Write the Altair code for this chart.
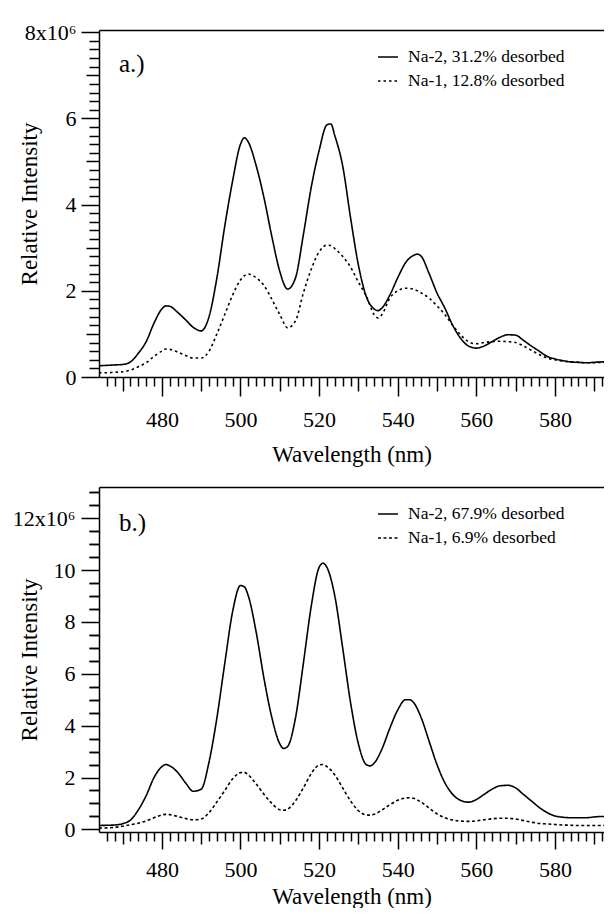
import altair as alt
import pandas as pd

FONT = "Liberation Serif"

# ---------------- data ----------------
wl_a = [464, 466, 468, 470, 472, 474, 476, 478, 480, 481,
        482, 484, 486, 488, 490, 492, 494, 496, 498, 500,
        501, 502, 504, 506, 508, 510, 512, 514, 516, 518,
        520, 522, 523, 524, 526, 528, 530, 532, 534, 535,
        536, 538, 540, 542, 544, 545, 546, 548, 550, 552,
        554, 556, 558, 560, 562, 564, 566, 568, 570, 572,
        574, 576, 578, 580, 582, 584, 586, 588, 590, 592,
        594]
na2_a = [0.26, 0.27, 0.28, 0.29, 0.35, 0.55, 0.82, 1.25, 1.58, 1.65,
         1.64, 1.5, 1.33, 1.15, 1.07, 1.4, 2.3, 3.5, 4.55, 5.4,
         5.55, 5.45, 4.9, 4.15, 3.25, 2.45, 2.04, 2.3, 3.3, 4.4,
         5.25, 5.85, 5.87, 5.6, 4.9, 3.7, 2.6, 1.87, 1.58, 1.54,
         1.6, 1.9, 2.3, 2.65, 2.82, 2.85, 2.8, 2.4, 1.95, 1.6,
         1.2, 0.9, 0.72, 0.67, 0.72, 0.82, 0.92, 0.98, 0.97, 0.85,
         0.72, 0.6, 0.48, 0.42, 0.38, 0.35, 0.34, 0.33, 0.34, 0.35,
         0.35]
na1_a = [0.1, 0.1, 0.11, 0.12, 0.16, 0.24, 0.33, 0.48, 0.6, 0.65,
         0.64, 0.58, 0.5, 0.44, 0.44, 0.6, 1.0, 1.45, 1.9, 2.25,
         2.35, 2.39, 2.3, 2.12, 1.8, 1.45, 1.14, 1.3, 1.95, 2.5,
         2.9, 3.06, 3.05, 2.98, 2.8, 2.55, 2.2, 1.88, 1.45, 1.37,
         1.45, 1.83, 2.0, 2.06, 2.04, 2.0, 1.95, 1.83, 1.65, 1.45,
         1.2, 0.98, 0.82, 0.77, 0.8, 0.82, 0.83, 0.82, 0.8, 0.72,
         0.62, 0.52, 0.44, 0.4, 0.37, 0.35, 0.34, 0.33, 0.33, 0.34,
         0.34]

wl_b = [464, 466, 468, 470, 472, 474, 476, 478, 480, 481,
        482, 484, 486, 488, 490, 492, 494, 496, 498, 500,
        501, 502, 504, 506, 508, 510, 511, 512, 514, 516,
        518, 520, 521, 522, 524, 526, 528, 530, 532, 533,
        534, 536, 538, 540, 542, 543, 544, 546, 548, 550,
        552, 554, 556, 558, 560, 562, 564, 566, 568, 570,
        572, 574, 576, 578, 580, 582, 584, 586, 588, 590,
        592, 594]
na2_b = [0.15, 0.16, 0.17, 0.22, 0.36, 0.75, 1.3, 2.0, 2.42, 2.5,
         2.45, 2.2, 1.8, 1.47, 1.55, 2.6, 4.3, 6.4, 8.4, 9.4,
         9.35, 9.0, 7.6, 5.8, 4.3, 3.3, 3.12, 3.2, 4.3, 6.4,
         8.6, 10.1, 10.26, 10.1, 9.0, 7.0, 4.9, 3.3, 2.5, 2.45,
         2.55, 3.1, 3.9, 4.6, 5.0, 5.0, 4.9, 4.3, 3.4, 2.5,
         1.8, 1.35, 1.12, 1.05, 1.15, 1.35, 1.55, 1.68, 1.7, 1.6,
         1.35, 1.1, 0.85, 0.65, 0.52, 0.47, 0.45, 0.45, 0.45, 0.48,
         0.5, 0.5]
na1_b = [0.05, 0.06, 0.08, 0.12, 0.18, 0.24, 0.33, 0.45, 0.56, 0.58,
         0.57, 0.5, 0.42, 0.37, 0.4, 0.65, 1.06, 1.5, 1.95, 2.19,
         2.2, 2.1, 1.75, 1.35, 1.0, 0.76, 0.74, 0.78, 1.1, 1.6,
         2.15, 2.48, 2.5, 2.42, 2.1, 1.6, 1.1, 0.72, 0.56, 0.55,
         0.58, 0.75, 0.95, 1.12, 1.21, 1.22, 1.2, 1.05, 0.82, 0.6,
         0.45, 0.36, 0.32, 0.31, 0.33, 0.37, 0.41, 0.43, 0.43, 0.4,
         0.34, 0.28, 0.23, 0.21, 0.19, 0.17, 0.16, 0.15, 0.15, 0.15,
         0.15, 0.15]

names_a = ["Na-2, 31.2% desorbed", "Na-1, 12.8% desorbed"]
names_b = ["Na-2, 67.9% desorbed", "Na-1, 6.9% desorbed"]

# tick values
XMAJOR = [480, 500, 520, 540, 560, 580]
XMED = [470, 490, 510, 530, 550, 570, 590]
XMINOR = [w for w in range(466, 593, 2) if w % 10 != 0]

YMAJ_A = [0, 2000000, 4000000, 6000000, 8000000]
YMED_A = [1000000, 3000000, 5000000, 7000000]
YMIN_A = [i * 200000 for i in range(1, 41) if i % 5 != 0]

YMAJ_B = [0, 2000000, 4000000, 6000000, 8000000, 10000000, 12000000]
YMIN_B = [i * 500000 for i in range(1, 27) if i % 4 != 0]


def make_df(wl, s1, s2, names):
    rows = []
    for w, v in zip(wl, s1):
        rows.append({"wl": w, "val": v * 1e6, "series": names[0]})
    for w, v in zip(wl, s2):
        rows.append({"wl": w, "val": v * 1e6, "series": names[1]})
    return pd.DataFrame(rows)


def panel(df, names, ydom, ymaj, ymed, ymin, toplabel, tag, height,
          xtick, xlabpad, xtitlepad, ylabpad, legx, legy, dash, tagy):
    xs = alt.Scale(domain=[464, 592.5], nice=False, zero=False)
    ys = alt.Scale(domain=ydom, nice=False, zero=False)
    lab_expr = ("datum.value == %d ? '%s' : format(datum.value / 1000000, 'd')"
                % (toplabel[0], toplabel[1]))

    main = alt.Chart(df).mark_line(
        color="black", strokeWidth=1.6, interpolate="monotone", clip=True
    ).encode(
        x=alt.X("wl:Q", scale=xs, axis=alt.Axis(
            orient="bottom", values=XMAJOR, tickSize=xtick, labelPadding=xlabpad,
            title="Wavelength (nm)", titlePadding=xtitlepad, format="d",
            labelFlush=False, labelOverlap=False)),
        y=alt.Y("val:Q", scale=ys, axis=alt.Axis(
            orient="left", values=ymaj, tickSize=18, labelPadding=ylabpad,
            labelExpr=lab_expr, title="Relative Intensity",
            titleX=-63, titleBaseline="alphabetic", labelFlush=False,
            labelOverlap=False)),
        strokeDash=alt.StrokeDash(
            "series:N",
            scale=alt.Scale(domain=names, range=[[1, 0], dash]),
            legend=alt.Legend(
                title=None, orient="none", legendX=legx, legendY=legy,
                symbolType="stroke", symbolSize=400, symbolStrokeWidth=1.4,
                symbolStrokeColor="black", labelFont=FONT, labelFontSize=17.5,
                labelColor="black", labelOffset=9, rowPadding=4)),
    )

    mid = alt.Chart(df).mark_point(opacity=0, clip=True).encode(
        x=alt.X("wl:Q", scale=xs, axis=alt.Axis(
            orient="bottom", values=XMED, tickSize=xtick - 5, labels=False,
            domain=False, title=None, minExtent=0, maxExtent=0)),
        y=alt.Y("val:Q", scale=ys, axis=alt.Axis(
            orient="left", values=ymed if ymed else ymin,
            tickSize=13 if ymed else 10, minExtent=0, maxExtent=0,
            labels=False, domain=False, title=None)),
    )

    small = alt.Chart(df).mark_point(opacity=0, clip=True).encode(
        x=alt.X("wl:Q", scale=xs, axis=alt.Axis(
            orient="bottom", values=XMINOR, tickSize=9, labels=False,
            domain=False, title=None, minExtent=0, maxExtent=0)),
        y=alt.Y("val:Q", scale=ys, axis=alt.Axis(
            orient="left", values=ymin, tickSize=10, minExtent=0, maxExtent=0,
            labels=False, domain=False, title=None)),
    )

    top = alt.Chart(df).mark_point(opacity=0, clip=True).encode(
        x=alt.X("wl:Q", scale=xs, axis=alt.Axis(
            orient="top", ticks=False, labels=False, domain=True, title=None,
            minExtent=0, maxExtent=0)),
        y=alt.Y("val:Q", scale=ys, axis=None),
    )

    tag_chart = alt.Chart(pd.DataFrame({"t": [tag]})).mark_text(
        font=FONT, fontSize=25, align="left", baseline="middle", color="black"
    ).encode(x=alt.value(20), y=alt.value(tagy), text="t:N")

    return alt.layer(main, mid, small, top, tag_chart).resolve_axis(
        x="independent", y="independent"
    ).properties(width=505, height=height)


df_a = make_df(wl_a, na2_a, na1_a, names_a)
df_b = make_df(wl_b, na2_b, na1_b, names_b)

pa = panel(df_a, names_a, [0, 8050000], YMAJ_A, YMED_A, YMIN_A,
           (8000000, "8x10\u2076"), "a.)", 347,
           19, 13, 13, 5, 278, 16, [2.5, 3], 34)
pb = panel(df_b, names_b, [-100000, 13200000], YMAJ_B, None, YMIN_B,
           (12000000, "12x10\u2076"), "b.)", 345,
           17, 10, 5, 6, 278, 16, [3, 2.5], 36)

chart = alt.concat(pa, pb, columns=1, spacing=21).resolve_scale(
    strokeDash="independent"
).resolve_legend(
    strokeDash="independent"
).properties(
    padding={"left": 4, "top": 13, "right": 0, "bottom": 0}
).configure_axis(
    labelFont=FONT, titleFont=FONT, labelFontSize=22, titleFontSize=23,
    labelColor="black", titleColor="black", tickColor="black",
    domainColor="black", tickWidth=1.5, domainWidth=1.5, grid=False,
    titleFontWeight="normal"
).configure_view(stroke=None)

chart.save("out.html", embed_options={"renderer": "svg", "actions": False})
